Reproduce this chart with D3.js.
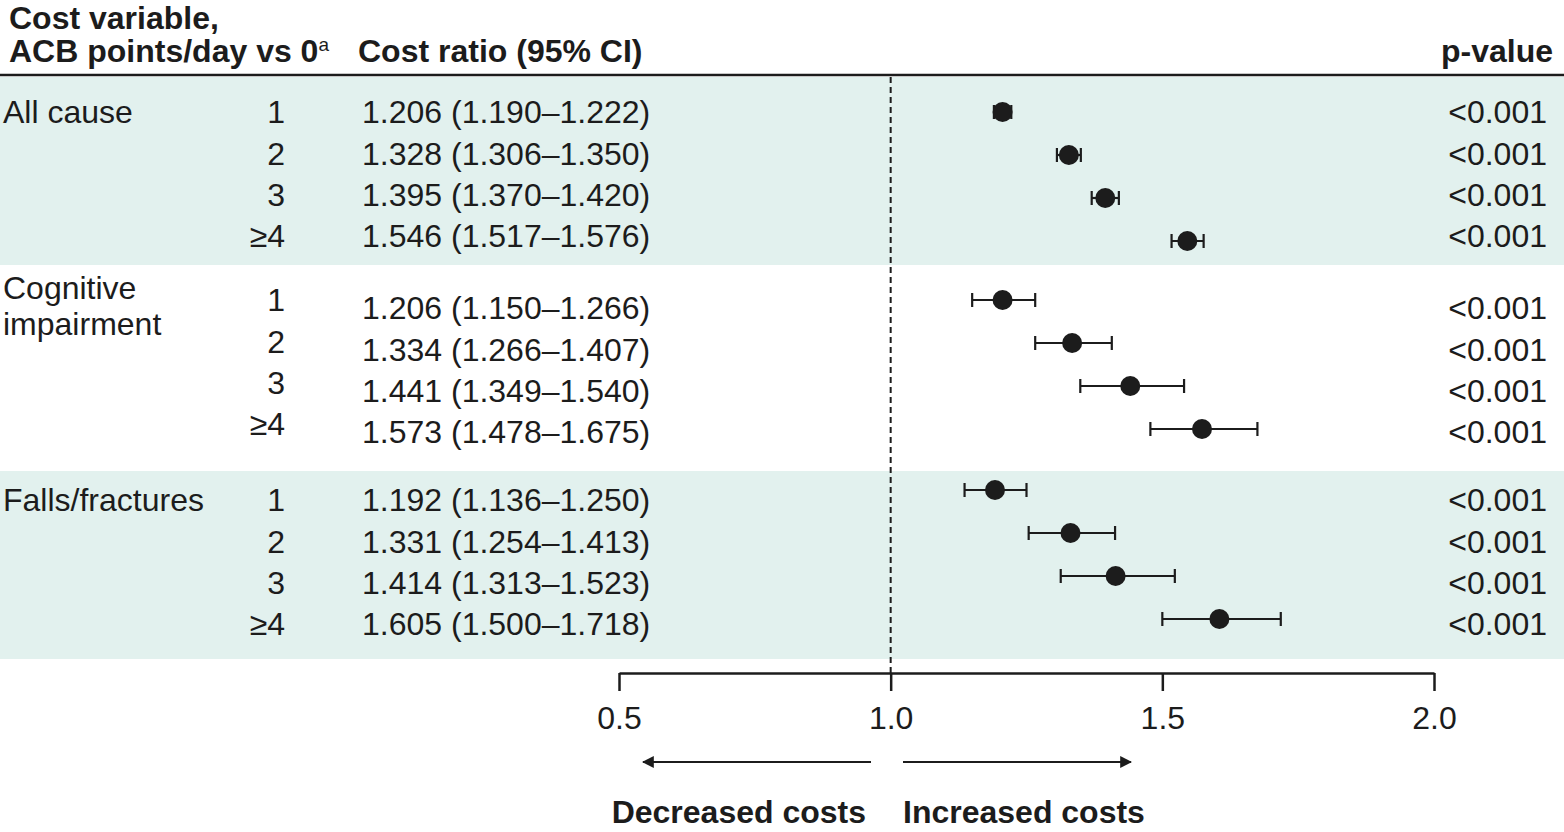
<!DOCTYPE html>
<html>
<head>
<meta charset="utf-8">
<script src="https://cdn.jsdelivr.net/npm/d3@7"></script>
<style>
  body { margin: 0; background: #fff; }
  svg { display: block; font-family: "Liberation Sans", Arial, Helvetica, sans-serif; }
</style>
</head>
<body>
<div id="chart"></div>
<script>
"use strict";

// forest plot: cost ratios by ACB points/day vs 0
var groups = ["All cause", "Cognitive impairment", "Falls/fractures"];
var groupLines = [["All cause"], ["Cognitive", "impairment"], ["Falls/fractures"]];
var levels = ["1", "2", "3", "≥4"];

var allCauseEst = [1.206, 1.328, 1.395, 1.546];
var allCauseLo = [1.190, 1.306, 1.370, 1.517];
var allCauseHi = [1.222, 1.350, 1.420, 1.576];

var cognitiveEst = [1.206, 1.334, 1.441, 1.573];
var cognitiveLo = [1.150, 1.266, 1.349, 1.478];
var cognitiveHi = [1.266, 1.407, 1.540, 1.675];

var fallsEst = [1.192, 1.331, 1.414, 1.605];
var fallsLo = [1.136, 1.254, 1.313, 1.500];
var fallsHi = [1.250, 1.413, 1.523, 1.718];

var pValues = ["<0.001", "<0.001", "<0.001", "<0.001"];
var axisTicks = [0.5, 1.0, 1.5, 2.0];

var estimates = [allCauseEst, cognitiveEst, fallsEst];
var lowers = [allCauseLo, cognitiveLo, fallsLo];
var uppers = [allCauseHi, cognitiveHi, fallsHi];

var width = 1564, height = 832;
var fontSize = 32;
var ink = "#1c1c1c";

var svg = d3.select("#chart").append("svg")
    .attr("width", width).attr("height", height);

var x = d3.scaleLinear().domain([0.5, 2.0]).range([619, 1434]);

// vertical layout of each group
var textTop = [112, 308, 500];
var levelTop = [112, 300, 500];
var pointTop = [112, 300, 490];
var textStep = d3.scalePoint().domain(levels).range([0, 124]);
var pointStep = d3.scalePoint().domain(levels).range([0, 129]);
var bands = [[77, 265], [471, 659]];

var rows = [];
groups.forEach(function (g, gi) {
    levels.forEach(function (lv, li) {
        rows.push({
            group: gi, level: lv,
            est: estimates[gi][li], lo: lowers[gi][li], hi: uppers[gi][li],
            p: pValues[li],
            ty: textTop[gi] + textStep(lv),
            ly: levelTop[gi] + textStep(lv),
            py: pointTop[gi] + pointStep(lv)
        });
    });
});

// shaded bands
svg.append("g").selectAll("rect").data(bands).enter().append("rect")
    .attr("x", 0).attr("width", width)
    .attr("y", function (d) { return d[0]; })
    .attr("height", function (d) { return d[1] - d[0]; })
    .attr("fill", "#e2f1ee");

// header
var header = svg.append("g").attr("font-weight", "bold").attr("font-size", fontSize).attr("fill", ink);
header.append("text").attr("x", 9).attr("y", 29).text("Cost variable,");
var acb = header.append("text").attr("x", 9).attr("y", 62).text("ACB points/day vs 0");
acb.append("tspan").attr("font-size", 19).attr("font-weight", "normal").attr("dy", -11).text("a");
header.append("text").attr("x", 358).attr("y", 62).text("Cost ratio (95% CI)");
header.append("text").attr("x", 1553).attr("y", 62).attr("text-anchor", "end").text("p-value");

svg.append("line")
    .attr("x1", 0).attr("x2", width).attr("y1", 75).attr("y2", 75)
    .attr("stroke", ink).attr("stroke-width", 2.5);

// left labels
var body = svg.append("g").attr("font-size", fontSize).attr("fill", ink);
groupLines.forEach(function (lines, gi) {
    lines.forEach(function (line, k) {
        body.append("text")
            .attr("x", 3)
            .attr("y", (gi === 1 ? 288 : textTop[gi]) + k * 36)
            .attr("dy", "0.35em")
            .text(line);
    });
});

body.selectAll(".lvl").data(rows).enter().append("text")
    .attr("class", "lvl")
    .attr("x", 285).attr("y", function (d) { return d.ly; })
    .attr("dy", "0.35em").attr("text-anchor", "end")
    .text(function (d) { return d.level; });

var fmt = d3.format(".3f");
body.selectAll(".ci").data(rows).enter().append("text")
    .attr("class", "ci")
    .attr("x", 362).attr("y", function (d) { return d.ty; })
    .attr("dy", "0.35em")
    .text(function (d) { return fmt(d.est) + " (" + fmt(d.lo) + "–" + fmt(d.hi) + ")"; });

body.selectAll(".pv").data(rows).enter().append("text")
    .attr("class", "pv")
    .attr("x", 1547).attr("y", function (d) { return d.ty; })
    .attr("dy", "0.35em").attr("text-anchor", "end")
    .text(function (d) { return d.p; });

// reference line at 1.0
svg.append("line")
    .attr("x1", x(1)).attr("x2", x(1)).attr("y1", 77).attr("y2", 673)
    .attr("stroke", ink).attr("stroke-width", 2)
    .attr("stroke-dasharray", "6,4");

// error bars and points
var marks = svg.append("g").attr("stroke", ink).attr("stroke-width", 2.2);
marks.selectAll(".bar").data(rows).enter().append("line")
    .attr("x1", function (d) { return x(d.lo); })
    .attr("x2", function (d) { return x(d.hi); })
    .attr("y1", function (d) { return d.py; })
    .attr("y2", function (d) { return d.py; });
marks.selectAll(".capl").data(rows).enter().append("line")
    .attr("x1", function (d) { return x(d.lo); })
    .attr("x2", function (d) { return x(d.lo); })
    .attr("y1", function (d) { return d.py - 7; })
    .attr("y2", function (d) { return d.py + 7; });
marks.selectAll(".capr").data(rows).enter().append("line")
    .attr("x1", function (d) { return x(d.hi); })
    .attr("x2", function (d) { return x(d.hi); })
    .attr("y1", function (d) { return d.py - 7; })
    .attr("y2", function (d) { return d.py + 7; });
svg.append("g").selectAll("circle").data(rows).enter().append("circle")
    .attr("cx", function (d) { return x(d.est); })
    .attr("cy", function (d) { return d.py; })
    .attr("r", 10)
    .attr("fill", ink);

// axis
var axis = svg.append("g")
    .attr("transform", "translate(0,673)")
    .call(d3.axisBottom(x).tickValues(axisTicks).tickFormat(d3.format(".1f"))
        .tickSize(18).tickPadding(15).tickSizeOuter(0));
axis.select(".domain").attr("stroke", ink).attr("stroke-width", 2.5);
axis.selectAll(".tick line").attr("stroke", ink).attr("stroke-width", 2.5);
axis.selectAll(".tick text")
    .attr("font-size", fontSize)
    .attr("font-family", "'Liberation Sans', Arial, sans-serif")
    .attr("fill", ink);

// direction arrows
var defs = svg.append("defs");
defs.append("marker")
    .attr("id", "head").attr("viewBox", "0 0 10 10")
    .attr("refX", 9).attr("refY", 5)
    .attr("markerWidth", 12).attr("markerHeight", 12)
    .attr("markerUnits", "userSpaceOnUse")
    .attr("orient", "auto")
    .append("path").attr("d", "M0,0L10,5L0,10Z").attr("fill", ink);

svg.append("line")
    .attr("x1", 871).attr("x2", 643).attr("y1", 762).attr("y2", 762)
    .attr("stroke", ink).attr("stroke-width", 2).attr("marker-end", "url(#head)");
svg.append("line")
    .attr("x1", 903).attr("x2", 1131).attr("y1", 762).attr("y2", 762)
    .attr("stroke", ink).attr("stroke-width", 2).attr("marker-end", "url(#head)");

var foot = svg.append("g").attr("font-weight", "bold").attr("font-size", fontSize).attr("fill", ink);
foot.append("text").attr("x", 866).attr("y", 823).attr("text-anchor", "end").text("Decreased costs");
foot.append("text").attr("x", 903).attr("y", 823).text("Increased costs");
</script>
</body>
</html>
